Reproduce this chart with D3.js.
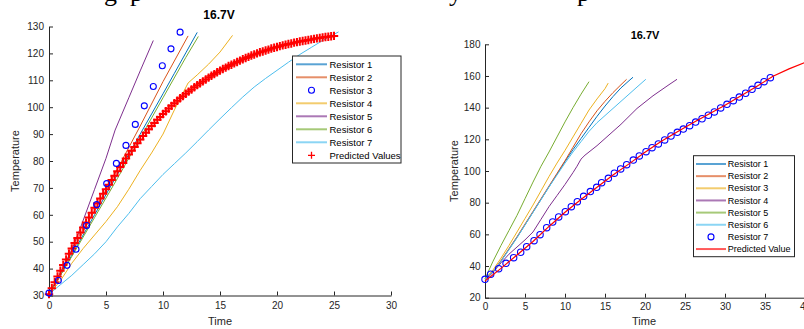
<!DOCTYPE html>
<html>
<head>
<meta charset="utf-8">
<script src="https://cdn.jsdelivr.net/npm/d3@7"></script>
<style>
  body { margin: 0; background: #fff; }
  text { font-family: "Liberation Sans", Arial, sans-serif; fill: #262626; }
</style>
</head>
<body>
<script>
// ---------- left panel data (time, temperature) ----------
const leftR1 = [[0,30.5],[1,37.5],[2,45],[3,52.5],[4,60],[5,67.5],[6,75],[7,82.5],[8,90],[9,97.5],[10,105],[11,112.6],[12,120.2],[13,127.8]];
const leftR2 = [[0,30.5],[2,46],[4,61.5],[6,77],[8,93],[10,109.5],[12.2,126.5]];
const leftR3t = [0,0.82,1.58,2.37,3.3,4.18,5.06,5.91,6.75,7.57,8.36,9.15,9.94,10.7,11.5];
const leftR3v = [30.9,35.6,41.2,47.2,56.0,63.8,71.6,79.1,85.8,93.6,100.5,107.7,115.4,121.7,127.9];
const leftR4 = [[0,30.5],[1,35.5],[2,42],[3,47.5],[4,52.5],[5,57.5],[6,63],[7,69.5],[8,76.5],[9,83],[10,90],[11,99],[12.2,109],[13,112],[14,116],[15,120.5],[16.1,126.7]];
const leftR5 = [[0,30.5],[1,38.5],[2,47],[2.7,54.5],[4,69.5],[5,81],[5.8,91.5],[7,103.5],[8,113.5],[9.15,124.8]];
const leftR6 = [[0,30.5],[2,44.5],[4,59],[6,73.5],[8,88.5],[10,103.5],[12,118.5],[13.1,126.3]];
const leftR7 = [[0,30.5],[1,34],[2,37.5],[3,41.5],[4,45.5],[5,50],[6,55.5],[7,60.5],[8,66],[9,70.5],[10,75],[11,79],[12,83],[13,87.2],[14,91.5],[15,95.7],[16,99.8],[17,103.8],[18,107.5],[19,110.7],[20,113.7],[21,116.7],[22,119.6],[23,122.2],[24,124.8],[25.4,128]];
// predicted values, sampled every 0.25 s from t = 0 to 25
const predStep = 0.25;
const leftPred = [
  30.5,32.7,34.9,37.1, 39.2,41.3,43.4,45.5, 47.5,49.5,51.4,53.4, 55.3,57.1,59.0,60.8,
  62.6,64.3,66.1,67.8, 69.5,71.2,72.9,74.5, 76.2,77.8,79.3,80.9, 82.4,83.8,85.2,86.6,
  88.0,89.3,90.5,91.8, 93.0,94.1,95.3,96.4, 97.5,98.5,99.5,100.5, 101.5,102.4,103.3,104.1,
  105.0,105.8,106.6,107.4, 108.2,108.9,109.6,110.3, 111.0,111.7,112.3,113.0, 113.6,114.2,114.7,115.3,
  115.8,116.3,116.8,117.3, 117.8,118.3,118.7,119.2, 119.6,120.0,120.4,120.7, 121.1,121.4,121.8,122.1,
  122.4,122.7,123.0,123.2, 123.5,123.7,124.0,124.2, 124.4,124.6,124.8,125.0, 125.2,125.4,125.6,125.7,
  125.9,126.1,126.2,126.4, 126.5];

// ---------- right panel data ----------
const rightR1 = [[0,31.5],[1,36.5],[2,43],[3,50.5],[4,58],[5,66],[6,74],[7,82],[8,90],[9,98],[10,106],[11,113.5],[12,120.5],[13,127.5],[14,134.5],[15,141],[16,147],[17,152.5],[18,157],[18.5,159.2]];
const rightR2 = [[0,31.5],[1,36.5],[2,43.5],[3,51],[4,58.5],[5,66.5],[6,74.5],[7,82.5],[8,90.5],[9,98.5],[10,106.5],[11,115],[12,123.5],[13,131],[14,138],[15,144],[16,149.5],[17,154.5],[17.7,157.9]];
const rightR3 = [[0,32],[1,37.5],[2,45],[3,53],[4,61.5],[5,70],[6,78.5],[7,87.5],[8,96.5],[9,105],[10,113],[11,121.5],[12,130],[13,138.5],[14,145.5],[15,152],[15.4,155.5]];
const rightR4 = [[0,31],[1,36],[2,42],[3,47.5],[4,52],[5,56.5],[6,61.5],[7,69.5],[8,77.5],[9,84.5],[10,91.5],[11,99],[11.5,103],[12,107.5],[12.5,110],[13,112],[14,116],[15,120.5],[16,125],[17,129.5],[18,134.5],[19,139.5],[20,143.5],[21,147.5],[22,151],[23,154.5],[24,157.9]];
const rightR5 = [[0,32],[1,43],[2,53],[3,62.5],[4,72],[5,82.5],[6,93],[7,103],[8,112],[9,121.5],[10,131],[11,140],[12,148.5],[13,156.4]];
const rightR6 = [[0,31.5],[1,36.5],[2,43],[3,50.5],[4,58],[5,66],[6,74],[7,82],[8,90],[9,97.5],[10,105],[11,112],[12,118.5],[13,125],[14,130.5],[15,135],[16,139.5],[17,144],[18,148.5],[19,153],[20.1,157.9]];
const rightR7t = [0,0.71,1.71,2.63,3.58,4.46,5.21,6.13,6.88,7.71,8.46,9.21,10.04,10.79,11.54,12.33,13.17,13.96,14.58,15.42,16.17,16.96,17.71,18.54,19.29,20.13,20.88,21.67,22.46,23.25,24.04,24.79,25.58,26.33,27.13,27.92,28.67,29.46,30.25,31.04,31.79,32.58,33.38,34.13,34.88,35.67];
const rightR7v = [31.6,34.8,38.3,41.7,45.3,48.7,52.2,56.0,59.8,64.2,67.8,71.0,74.3,77.5,80.6,84.0,87.0,89.7,92.6,95.4,98.6,101.3,104.0,106.9,109.5,112.2,114.7,117.1,119.6,122.1,124.4,126.5,128.6,130.9,133.0,135.2,137.3,139.8,142.1,144.4,146.7,149.1,151.6,154.1,156.4,158.9];
const rightPred = [[0,30.5],[2,38.5],[4,47],[6,55.5],[8,65],[10,74],[12,82],[14,89.8],[16,97.5],[18,104.5],[20,111.8],[22,118.6],[24,124.6],[26,130.5],[28,136],[30,141.5],[32,147.5],[34,153.5],[36,159.8],[38,164.5],[40,168.5]];

const leftTicksX = [0,5,10,15,20,25,30];
const leftTicksY = [30,40,50,60,70,80,90,100,110,120,130];
const rightTicksX = [0,5,10,15,20,25,30,35,40];
const rightTicksY = [20,40,60,80,100,120,140,160,180];

const C = {blue:"#0072BD", orange:"#D95319", yellow:"#EDB120", purple:"#7E2F8E", green:"#77AC30", cyan:"#4DBEEE"};

const svg = d3.select("body").append("svg")
  .attr("width", 804).attr("height", 329);

// cut-off serif text line from the page above the figure
const topGlyphs = [["g",104],["p",130],["y",449],["p",577]];
svg.selectAll(".topg").data(topGlyphs).enter().append("text")
  .attr("x", d => d[1]).attr("y", 1)
  .style("font-family", "'Liberation Serif', serif").style("font-size", "26px").style("fill", "#000")
  .text(d => d[0]);

function panel(o) {
  const x = d3.scaleLinear().domain(o.xd).range(o.xr);
  const y = d3.scaleLinear().domain(o.yd).range(o.yr);
  const g = svg.append("g");

  g.append("g").attr("transform", `translate(0,${o.yr[0]})`)
    .call(d3.axisBottom(x).tickValues(o.tx).tickSizeInner(-4).tickSizeOuter(0).tickPadding(o.xpad))
    .call(a => a.selectAll("text").style("font-size", "10px").attr("fill", "#262626"))
    .call(a => a.selectAll("line,path").attr("stroke", "#262626"));
  g.append("g").attr("transform", `translate(${o.xr[0]},0)`)
    .call(d3.axisLeft(y).tickValues(o.ty).tickSizeInner(-4).tickSizeOuter(0).tickPadding(o.ypad))
    .call(a => a.selectAll("text").style("font-size", "10px").attr("fill", "#262626"))
    .call(a => a.selectAll("line,path").attr("stroke", "#262626"));

  g.append("text").attr("x", o.titleX).attr("y", o.titleY).attr("text-anchor", "middle")
    .style("font-size", o.titleSize).style("font-weight", "bold").style("fill", "#000").text("16.7V");
  g.append("text").attr("x", o.timeX).attr("y", 325).attr("text-anchor", "middle")
    .style("font-size", "11px").text("Time");
  g.append("text").attr("transform", `translate(${o.tempX},${o.tempY}) rotate(-90)`)
    .attr("text-anchor", "middle").style("font-size", "11px").text("Temperature");

  const line = d3.line().x(d => x(d[0])).y(d => y(d[1]));
  return {x, y, g, line};
}

// ---------- left panel ----------
const L = panel({xd:[0,30], xr:[49,391], yd:[30,130], yr:[295.5,26.5], tx:leftTicksX, ty:leftTicksY,
  xpad:6, ypad:5, titleX:219, titleY:19, titleSize:"12px", timeX:220, tempX:19, tempY:161});

[[leftR1,C.blue],[leftR2,C.orange],[leftR4,C.yellow],[leftR5,C.purple],[leftR6,C.green],[leftR7,C.cyan]]
  .forEach(s => L.g.append("path").datum(s[0]).attr("d", L.line)
    .attr("fill", "none").attr("stroke", s[1]).attr("stroke-width", 1));

L.g.selectAll(".pred").data(leftPred).enter().append("path")
  .attr("transform", (d, i) => `translate(${L.x(i * predStep)},${L.y(d)})`)
  .attr("d", "M-4.2,0H4.2M0,-4.2V4.2").attr("stroke", "#FF0000").attr("stroke-width", 2);

L.g.selectAll(".r3").data(leftR3v).enter().append("circle")
  .attr("cx", (d, i) => L.x(leftR3t[i])).attr("cy", d => L.y(d)).attr("r", 3)
  .attr("fill", "none").attr("stroke", "#0000FF").attr("stroke-width", 1.1);

// ---------- right panel ----------
const R = panel({xd:[0,40], xr:[485,805], yd:[20,180], yr:[297.7,44.3], tx:rightTicksX, ty:rightTicksY,
  xpad:5, ypad:4.5, titleX:645, titleY:39, titleSize:"11px", timeX:644, tempX:457.5, tempY:171});

[[rightR1,C.blue],[rightR2,C.orange],[rightR3,C.yellow],[rightR4,C.purple],[rightR5,C.green],[rightR6,C.cyan]]
  .forEach(s => R.g.append("path").datum(s[0]).attr("d", R.line)
    .attr("fill", "none").attr("stroke", s[1]).attr("stroke-width", 1));

R.g.selectAll(".r7").data(rightR7v).enter().append("circle")
  .attr("cx", (d, i) => R.x(rightR7t[i])).attr("cy", d => R.y(d)).attr("r", 3.2)
  .attr("fill", "none").attr("stroke", "#0000FF").attr("stroke-width", 1.1);

R.g.append("path").datum(rightPred).attr("d", R.line)
  .attr("fill", "none").attr("stroke", "#FF0000").attr("stroke-width", 1.2);

// ---------- legends ----------
function legend(box, rows, x0, x1, tx, y0, dy, size) {
  const g = svg.append("g");
  g.append("rect").attr("x", box[0]).attr("y", box[1]).attr("width", box[2]).attr("height", box[3])
    .attr("fill", "#fff").attr("stroke", "#262626").attr("stroke-width", 1);
  rows.forEach((r, i) => {
    const yy = y0 + i * dy;
    if (r.kind === "line") {
      g.append("line").attr("x1", x0).attr("x2", x1).attr("y1", yy).attr("y2", yy)
        .attr("stroke", r.color).attr("stroke-width", 2).attr("stroke-opacity", 0.65);
    } else if (r.kind === "circle") {
      g.append("circle").attr("cx", (x0 + x1) / 2).attr("cy", yy).attr("r", 3)
        .attr("fill", "none").attr("stroke", "#0000FF").attr("stroke-width", 1.1);
    } else {
      g.append("path").attr("transform", `translate(${(x0 + x1) / 2},${yy})`)
        .attr("d", "M-3.5,0H3.5M0,-3.5V3.5").attr("stroke", "#FF0000").attr("stroke-width", 1.3);
    }
    g.append("text").attr("x", tx).attr("y", yy).attr("dy", "0.35em")
      .style("font-size", size).style("fill", "#000").text(r.name);
  });
}

legend([292.5, 56, 108.5, 107], [
  {name:"Resistor 1", kind:"line", color:C.blue},
  {name:"Resistor 2", kind:"line", color:C.orange},
  {name:"Resistor 3", kind:"circle"},
  {name:"Resistor 4", kind:"line", color:C.yellow},
  {name:"Resistor 5", kind:"line", color:C.purple},
  {name:"Resistor 6", kind:"line", color:C.green},
  {name:"Resistor 7", kind:"line", color:C.cyan},
  {name:"Predicted Values", kind:"plus"}
], 296, 327, 329.5, 64.3, 13, "9.5px");

legend([693.5, 155.7, 101, 101], [
  {name:"Resistor 1", kind:"line", color:C.blue},
  {name:"Resistor 2", kind:"line", color:C.orange},
  {name:"Resistor 3", kind:"line", color:C.yellow},
  {name:"Resistor 4", kind:"line", color:C.purple},
  {name:"Resistor 5", kind:"line", color:C.green},
  {name:"Resistor 6", kind:"line", color:C.cyan},
  {name:"Resistor 7", kind:"circle"},
  {name:"Predicted Value", kind:"line", color:"#FF0000"}
], 696, 726, 727.7, 164, 12.15, "9px");
</script>
</body>
</html>
